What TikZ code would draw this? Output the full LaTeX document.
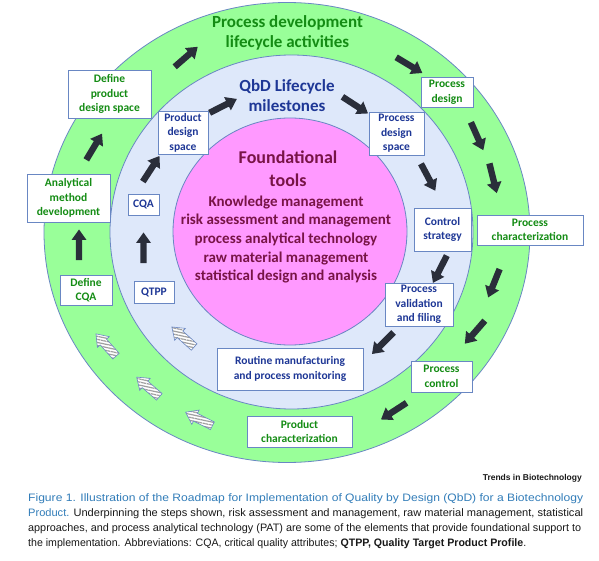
\documentclass[tikz,border=0pt]{standalone}
\usepackage{fontspec}
\usepackage{graphicx}
\setmainfont{Carlito}
\newfontfamily\capfont{Liberation Sans}
\usetikzlibrary{patterns.meta}
\definecolor{ringgreen}{RGB}{153,255,153}
\definecolor{ringblue}{RGB}{222,232,250}
\definecolor{ringpink}{RGB}{255,153,255}
\definecolor{edge}{RGB}{105,135,195}
\definecolor{txtgreen}{RGB}{20,140,20}
\definecolor{txtblue}{RGB}{30,55,150}
\definecolor{txtmaroon}{RGB}{120,20,70}
\definecolor{arrowdark}{RGB}{42,46,58}
\definecolor{capblue}{RGB}{50,125,185}
\definecolor{captext}{RGB}{25,25,25}
\newcommand{\blockarrow}[3]{%
  \begin{scope}[shift={(#1)}, rotate=#2]
    \path[#3] (-15,-3.2) -- (5,-3.2) -- (5,-7.5) -- (15.5,0) -- (5,7.5) -- (5,3.2) -- (-15,3.2) -- cycle;
  \end{scope}}
\newcommand{\hatcharrow}[2]{%
  \begin{scope}[shift={(#1)}, rotate=#2]
    \path[hatcharr] (-15,-4.3) -- (4,-4.3) -- (4,-8) -- (15,0) -- (4,8) -- (4,4.3) -- (-15,4.3) -- cycle;
  \end{scope}}
\begin{document}
\begin{tikzpicture}[x=1pt,y=-1pt,
  ring/.style={draw=edge, line width=0.8pt},
  gbox/.style={draw=edge, fill=white, line width=0.8pt, text=txtgreen, align=center, inner sep=0pt,
    font=\fontsize{11.5}{14.5}\selectfont\bfseries},
  bbox/.style={draw=edge, fill=white, line width=0.8pt, text=txtblue, align=center, inner sep=0pt,
    font=\fontsize{11.5}{14.5}\selectfont\bfseries},
  darkarr/.style={fill=arrowdark},
  hatcharr/.style={preaction={fill=white}, pattern={Lines[angle=-12,distance=3pt,line width=1.2pt]}, pattern color=gray!75, draw=edge, line width=0.6pt},
  capline/.style={anchor=base west, inner sep=0pt}
]
\useasboundingbox (0,0) rectangle (599,561);
\fill[white] (0,0) rectangle (599,561);

% rings
\draw[ring, fill=ringgreen] (287,232.5) ellipse [x radius=243, y radius=230];
\draw[ring, fill=ringblue] (291.5,232) ellipse [x radius=181.5, y radius=177];
\draw[ring, fill=ringpink] (290,231.5) ellipse [x radius=117, y radius=113.5];

% titles
\node[text=txtgreen, align=center, font=\fontsize{17}{20}\selectfont\bfseries] (tgreen) at (287.5,33) {Process development\\lifecycle activities};
\node[text=txtblue, align=center, font=\fontsize{17}{20}\selectfont\bfseries] (tblue) at (287,96) {QbD Lifecycle\\milestones};
\node[text=txtmaroon, align=center, font=\fontsize{18}{23}\selectfont\bfseries] (tpink) at (288,168.5) {Foundational\\tools};
\node[text=txtmaroon, align=center, font=\fontsize{15}{18.6}\selectfont\bfseries] (tools) at (286,239.5)
  {Knowledge management\\risk assessment and management\\process analytical technology\\raw material management\\statistical design and analysis};

% green ring boxes
\node[gbox, minimum width=83pt, minimum height=48pt] (gdpds) at (109.5,94) {Define\\product\\design space};
\node[gbox, minimum width=83pt, minimum height=48pt] (gamd) at (68.5,198) {Analytical\\method\\development};
\node[gbox, minimum width=52pt, minimum height=30pt] (gdcqa) at (86,290) {Define\\CQA};
\node[gbox, minimum width=52pt, minimum height=30pt] (gpd) at (447,92) {Process\\design};
\node[gbox, minimum width=106pt, minimum height=30pt] (gpc) at (530,230) {Process\\characterization};
\node[gbox, minimum width=61pt, minimum height=31pt] (gpctl) at (441.5,376.5) {Process\\control};
\node[gbox, minimum width=105pt, minimum height=31pt] (gprodc) at (299.5,431.5) {Product\\characterization};

% blue ring boxes
\node[bbox, minimum width=50pt, minimum height=43pt] (bpds) at (183,132.5) {Product\\design\\space};
\node[bbox, minimum width=31pt, minimum height=21pt] (bcqa) at (143.5,204.5) {CQA};
\node[bbox, minimum width=40pt, minimum height=22pt] (bqtpp) at (154,292) {QTPP};
\node[bbox, minimum width=55pt, minimum height=43pt] (bprds) at (396.5,133.5) {Process\\design\\space};
\node[bbox, minimum width=57pt, minimum height=43pt] (bcs) at (442.5,229.5) {Control\\strategy};
\node[bbox, minimum width=68pt, minimum height=43pt] (bpvf) at (419,304.5) {Process\\validation\\and filing};
\node[bbox, minimum width=146pt, minimum height=42pt] (brm) at (290,369) {Routine manufacturing\\and process monitoring};

% dark arrows, green ring
\blockarrow{94,147}{59}{darkarr}
\blockarrow{186,57}{41}{darkarr}
\blockarrow{409,65}{-31}{darkarr}
\blockarrow{477,136}{-66}{darkarr}
\blockarrow{493,178}{-76}{darkarr}
\blockarrow{494,283}{-112}{darkarr}
\blockarrow{475,332}{-131}{darkarr}
\blockarrow{394,411}{-147}{darkarr}
\blockarrow{79,245}{90}{darkarr}
% dark arrows, blue ring
\blockarrow{151,169}{57}{darkarr}
\blockarrow{223,106}{27}{darkarr}
\blockarrow{355,105}{-33}{darkarr}
\blockarrow{428,177}{-62}{darkarr}
\blockarrow{440,269}{-117}{darkarr}
\blockarrow{383,343}{-135}{darkarr}
\blockarrow{143.5,248}{90}{darkarr}
% hatched arrows
\hatcharrow{106,345}{132}
\hatcharrow{148,387}{139}
\hatcharrow{199,419}{153}
\hatcharrow{183,337}{138}

% caption
\node[anchor=base east, inner sep=0pt] (source) at (582,480)
  {\resizebox{99pt}{\height}{\capfont\bfseries\fontsize{8.5}{10}\selectfont\color{captext}Trends in Biotechnology}};
\node[capline] (cap1) at (28,501)
  {\resizebox{555pt}{\height}{\capfont\fontsize{10.8}{13}\selectfont\color{capblue}Figure 1. Illustration of the Roadmap for Implementation of Quality by Design (QbD) for a Biotechnology}};
\node[capline] (cap2) at (28,516)
  {\resizebox{555pt}{\height}{\capfont\fontsize{10.8}{13}\selectfont{\color{capblue}Product.} \color{captext}Underpinning the steps shown, risk assessment and management, raw material management, statistical}};
\node[capline] (cap3) at (28,531)
  {\resizebox{553pt}{\height}{\capfont\fontsize{10.8}{13}\selectfont\color{captext}approaches, and process analytical technology (PAT) are some of the elements that provide foundational support to}};
\node[capline] (cap4) at (28,546)
  {\resizebox{498pt}{\height}{\capfont\fontsize{10.8}{13}\selectfont\color{captext}the implementation. Abbreviations: CQA, critical quality attributes; \textbf{QTPP, Quality Target Product Profile}.}};
\end{tikzpicture}
\end{document}
